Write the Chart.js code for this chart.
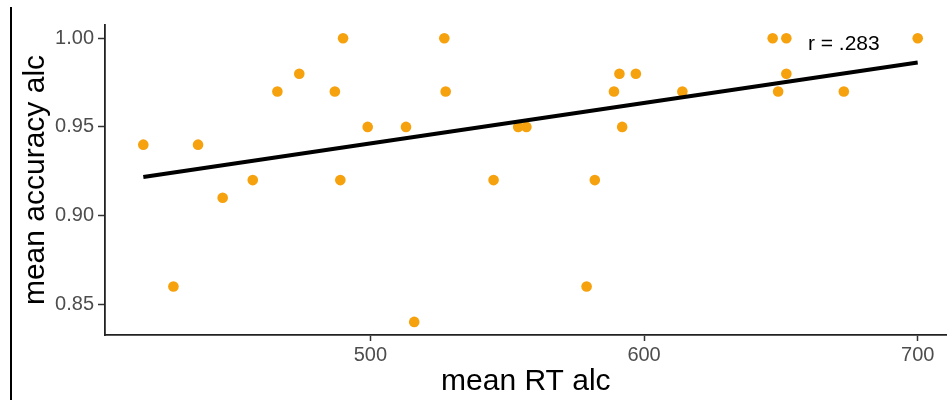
<!DOCTYPE html>
<html>
<head>
<meta charset="utf-8">
<script src="https://cdn.jsdelivr.net/npm/chart.js@4/dist/chart.umd.min.js"></script>
<style>
    html, body { margin: 0; padding: 0; background: #fff; }
    #wrap { position: relative; width: 952px; height: 400px; }
    #edge { position: absolute; left: 10px; top: 7px; width: 1.5px; height: 393px; background: #000; }
</style>
</head>
<body>
<div id="wrap">
    <div id="edge"></div>
    <canvas id="RtAccuracyChart" width="952" height="400"></canvas>
</div>
<script>
// mean RT alc (ms) per participant
const rtValues = [417, 428, 437, 446, 457, 466, 474, 487, 489, 490, 499, 513, 516, 527, 527.5,
    545, 554, 557, 579, 582, 589, 591, 592, 597, 614, 647, 649, 652, 652, 673, 700];
// mean accuracy alc per participant, same order
const accValues = [0.94, 0.86, 0.94, 0.91, 0.92, 0.97, 0.98, 0.97, 0.92, 1.00, 0.95, 0.95, 0.84, 1.00, 0.97,
    0.92, 0.95, 0.95, 0.86, 0.92, 0.97, 0.98, 0.95, 0.98, 0.97, 1.00, 0.97, 1.00, 0.98, 0.97, 1.00];

// regression line end points
const fitX = [417, 700];
const fitY = [0.9217, 0.9863];

const xTicks = [500, 600, 700];
const yTicks = [0.85, 0.90, 0.95, 1.00];

const corrLabel = 'r = .283';
const corrPos = { x: 673, y: 0.9968 };

const FontFamily = '"Liberation Sans", Arial, sans-serif';

// spojime x a y do bodu pro scatter
let points = rtValues.map((rt, i) => ({ x: rt, y: accValues[i] }));
let fitLine = fitX.map((x, i) => ({ x: x, y: fitY[i] }));

// plugin na text s korelaci
const corrTextPlugin = {
    id: 'corrText',
    afterDatasetsDraw(chart) {
        let ctx = chart.ctx;
        let px = chart.scales.x.getPixelForValue(corrPos.x);
        let py = chart.scales.y.getPixelForValue(corrPos.y);
        ctx.save();
        ctx.font = '21px ' + FontFamily;
        ctx.fillStyle = '#000';
        ctx.textAlign = 'center';
        ctx.textBaseline = 'middle';
        ctx.fillText(corrLabel, px, py);
        ctx.restore();
    }
};

let ctx = document.getElementById('RtAccuracyChart').getContext('2d');
let chart = new Chart(ctx, {
    type: 'scatter',
    data: {
        datasets: [
            {
                type: 'line',
                data: fitLine,
                borderColor: '#000',
                borderWidth: 4,
                pointRadius: 0,
                fill: false,
                order: 0
            },
            {
                data: points,
                backgroundColor: '#F6A10E',
                borderWidth: 0,
                pointRadius: 5.3,
                order: 1
            }
        ]
    },
    options: {
        responsive: false,
        animation: false,
        layout: { padding: { top: 25, left: 0, right: 0, bottom: 0 } },
        plugins: { legend: { display: false }, tooltip: { enabled: false } },
        scales: {
            x: {
                type: 'linear',
                min: 403,
                max: 710.6,
                afterBuildTicks: scale => { scale.ticks = xTicks.map(v => ({ value: v })); },
                afterFit: scale => { scale.height = 65; },
                grid: { drawOnChartArea: false, drawTicks: true, tickLength: 6, tickWidth: 1.5, color: '#333' },
                border: { display: true, color: '#222', width: 1.8 },
                ticks: { color: '#4d4d4d', padding: 2, font: { family: FontFamily, size: 20 } },
                title: {
                    display: true,
                    text: 'mean RT alc',
                    color: '#000',
                    padding: { top: 0, bottom: 0 },
                    font: { family: FontFamily, size: 30 }
                }
            },
            y: {
                type: 'linear',
                min: 0.8326,
                max: 1.0075,
                afterBuildTicks: scale => { scale.ticks = yTicks.map(v => ({ value: v })); },
                afterFit: scale => { scale.width = 105; },
                grid: { drawOnChartArea: false, drawTicks: true, tickLength: 7, tickWidth: 1.5, color: '#333' },
                border: { display: true, color: '#222', width: 1.8 },
                ticks: {
                    color: '#4d4d4d',
                    padding: 4,
                    font: { family: FontFamily, size: 20 },
                    callback: v => v.toFixed(2)
                },
                title: {
                    display: true,
                    text: 'mean accuracy alc',
                    color: '#000',
                    padding: { top: 18, bottom: 0 },
                    font: { family: FontFamily, size: 30 }
                }
            }
        }
    },
    plugins: [corrTextPlugin]
});
</script>
</body>
</html>
